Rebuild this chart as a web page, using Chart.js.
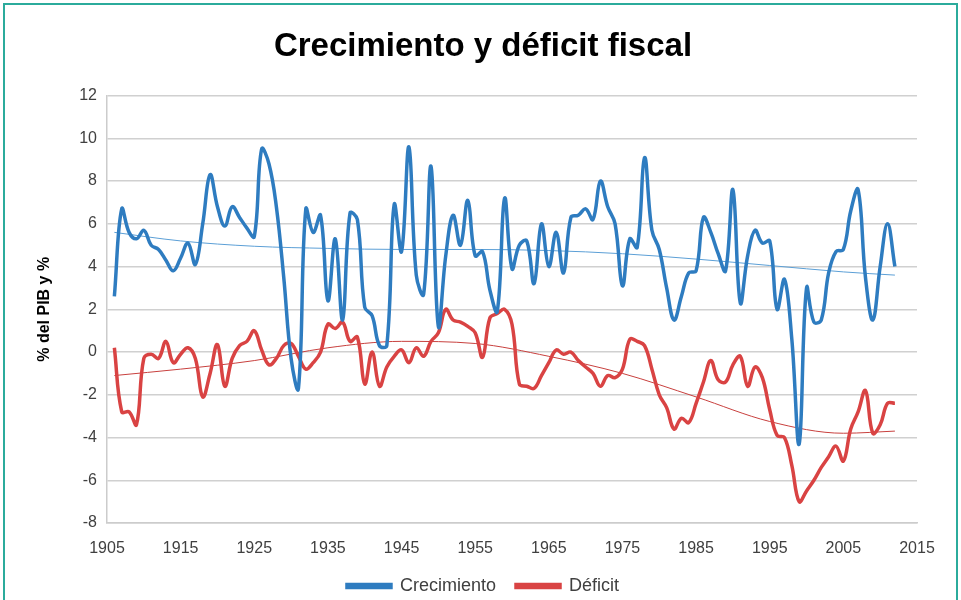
<!DOCTYPE html>
<html>
<head>
<meta charset="utf-8">
<script src="https://cdn.jsdelivr.net/npm/chart.js@4/dist/chart.umd.min.js"></script>
<style>
  html, body { margin: 0; padding: 0; background: #ffffff; }
  #wrap { position: relative; width: 961px; height: 600px; }
  #frame { position: absolute; left: 3px; top: 3px; width: 955px; height: 620px;
           border-top: 2px solid #2bab9c; border-left: 2px solid #2bab9c; border-right: 2px solid #2bab9c; box-sizing: border-box; pointer-events: none; }
  canvas { position: absolute; left: 0; top: 0; }
</style>
</head>
<body>
<div id="wrap">
  <canvas id="c" width="961" height="600"></canvas>
  <div id="frame"></div>
</div>
<script>
// ---- Data ----
const titleText = "Crecimiento y déficit fiscal";
const yAxisTitle = "% del PIB y %";
const seriesNames = ["Crecimiento", "Déficit"];

const years = [];
for (let y = 1906; y <= 2012; y++) years.push(y);

const crecimiento = [
  2.6, 6.7, 5.6, 5.3, 5.7, 5.0, 4.8, 4.3, 3.8, 4.4,   // 1906-1915
  5.1, 4.1, 6.0, 8.3, 6.8, 5.9, 6.8, 6.3, 5.8, 5.4,   // 1916-1925
  9.5, 8.8, 6.8, 3.5, -0.3, -1.7, 6.7, 5.6, 6.4, 2.4, // 1926-1935
  5.3, 1.5, 6.5, 6.2, 2.1, 1.7, 0.3, 0.3, 6.9, 4.7,   // 1936-1945
  9.6, 3.6, 2.7, 8.7, 1.2, 4.5, 6.4, 5.0, 7.1, 4.5,   // 1946-1955
  4.7, 2.9, 1.9, 7.2, 3.9, 5.0, 5.2, 3.2, 6.0, 4.0,   // 1956-1965
  5.6, 3.7, 6.3, 6.4, 6.7, 6.2, 8.0, 6.8, 6.0, 3.1,   // 1966-1975
  5.3, 4.9, 9.1, 5.7, 4.8, 3.0, 1.5, 2.6, 3.7, 3.8,   // 1976-1985
  6.3, 5.6, 4.6, 3.8, 7.6, 2.3, 4.5, 5.7, 5.1, 5.2,   // 1986-1995
  2.0, 3.4, 0.6, -4.3, 3.0, 1.4, 1.5, 3.7, 4.7, 4.8,  // 1996-2005
  6.6, 7.6, 3.5, 1.5, 4.0, 6.0, 4.0                   // 2006-2012
];

const deficit = [
  0.2, -2.8, -2.8, -3.4, -0.3, -0.1, -0.3, 0.5, -0.5, -0.1,  // 1906-1915
  0.2, -0.3, -2.1, -1.0, 0.35, -1.6, -0.3, 0.3, 0.5, 1.0,    // 1916-1925
  0.1, -0.6, -0.3, 0.3, 0.4, -0.2, -0.8, -0.5, 0.0, 1.3,     // 1926-1935
  1.1, 1.4, 0.5, 0.7, -1.5, 0.0, -1.6, -0.7, -0.2, 0.1,      // 1936-1945
  -0.5, 0.2, -0.2, 0.5, 0.9, 2.0, 1.5, 1.4, 1.2, 0.9,        // 1946-1955
  -0.25, 1.6, 1.8, 2.0, 1.3, -1.5, -1.6, -1.7, -1.1, -0.5,   // 1956-1965
  0.1, -0.1, 0.0, -0.4, -0.7, -1.0, -1.6, -1.1, -1.2, -0.8,  // 1966-1975
  0.6, 0.5, 0.3, -0.8, -2.0, -2.6, -3.6, -3.1, -3.3, -2.4,   // 1976-1985
  -1.4, -0.4, -1.3, -1.4, -0.6, -0.2, -1.6, -0.7, -1.2, -2.7,// 1986-1995
  -3.9, -4.0, -5.3, -7.0, -6.5, -6.0, -5.4, -4.9, -4.4, -5.1,// 1996-2005
  -3.6, -2.8, -1.8, -3.8, -3.4, -2.4, -2.4                   // 2006-2012
];

// Trend lines (polynomial trends in the original), read at a few years
const trendYears = [1906, 1915, 1925, 1935, 1945, 1955, 1965, 1975, 1985, 1995, 2005, 2012];
const crecimientoTrend = [5.6, 5.2, 4.95, 4.85, 4.8, 4.8, 4.75, 4.6, 4.35, 4.05, 3.75, 3.6];
const deficitTrend = [-1.1, -0.8, -0.4, 0.2, 0.5, 0.4, -0.2, -1.0, -2.1, -3.25, -3.8, -3.7];

const xTicks = [1905, 1915, 1925, 1935, 1945, 1955, 1965, 1975, 1985, 1995, 2005, 2015];
const yTicks = [-8, -6, -4, -2, 0, 2, 4, 6, 8, 10, 12];

// ---- Chart ----
const BLUE = '#2e7cc0';
const RED = '#d94343';
const FONT = "'Liberation Sans', Arial, sans-serif";

const toPts = (xs, ys) => xs.map((x, i) => ({ x: x, y: ys[i] }));

new Chart(document.getElementById('c'), {
  type: 'line',
  data: {
    datasets: [
      { label: seriesNames[0], data: toPts(years, crecimiento), borderColor: BLUE, backgroundColor: BLUE,
        borderWidth: 3.5, pointRadius: 0, tension: 0.4 },
      { label: seriesNames[1], data: toPts(years, deficit), borderColor: RED, backgroundColor: RED,
        borderWidth: 3.5, pointRadius: 0, tension: 0.4 },
      { label: 'trend1', data: toPts(trendYears, crecimientoTrend), borderColor: '#5b9fd6',
        borderWidth: 1, pointRadius: 0, cubicInterpolationMode: 'monotone' },
      { label: 'trend2', data: toPts(trendYears, deficitTrend), borderColor: '#c8403e',
        borderWidth: 1, pointRadius: 0, cubicInterpolationMode: 'monotone' }
    ]
  },
  options: {
    responsive: false,
    animation: false,
    layout: { padding: { top: 10, left: 49, right: 44, bottom: -5 } },
    plugins: {
      title: {
        display: true, text: titleText, color: '#000000',
        font: { family: FONT, size: 33, weight: 'bold' },
        padding: { top: 17, bottom: 29 }
      },
      legend: {
        position: 'bottom',
        labels: {
          color: '#404040', font: { family: FONT, size: 18 },
          boxWidth: 44, boxHeight: 3, padding: 20,
          sort: (a, b) => a.datasetIndex - b.datasetIndex,
          filter: (item) => item.text.indexOf('trend') !== 0
        }
      },
      tooltip: { enabled: false }
    },
    scales: {
      x: {
        type: 'linear', min: 1905, max: 2015,
        afterBuildTicks: (s) => { s.ticks = xTicks.map(v => ({ value: v })); },
        afterFit: (s) => { s.height = 34; },
        grid: { display: false, drawTicks: false },
        border: { display: true, color: '#cccccc', width: 1.5 },
        ticks: { color: '#404040', font: { family: FONT, size: 16 }, padding: 16, maxRotation: 0, autoSkip: false,
                 callback: (v) => String(v) }
      },
      y: {
        min: -8, max: 12,
        afterBuildTicks: (s) => { s.ticks = yTicks.map(v => ({ value: v })); },
        afterFit: (s) => { s.width = 58; },
        grid: { color: '#d0d0d0', lineWidth: 1.5, drawTicks: false },
        border: { display: true, color: '#cccccc', width: 1.5 },
        ticks: { color: '#404040', font: { family: FONT, size: 16 }, padding: 10 },
        title: { display: true, text: yAxisTitle, color: '#000000',
                 font: { family: FONT, size: 16, weight: 'bold' }, padding: { top: -14, bottom: 0 } }
      }
    }
  }
});
</script>
</body>
</html>
